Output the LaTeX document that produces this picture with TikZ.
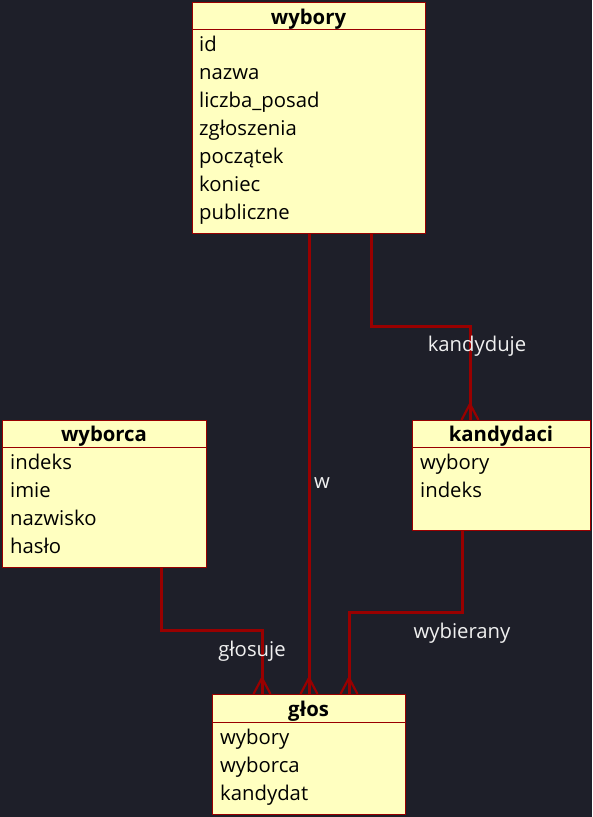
\documentclass[tikz,border=0pt]{standalone}
\usepackage{fontspec}
\setmainfont{Open Sans}
\definecolor{bg}{RGB}{30,31,41}
\definecolor{boxfill}{RGB}{255,255,192}
\definecolor{rel}{RGB}{153,0,0}
\definecolor{lbl}{RGB}{240,240,240}
\tikzset{
  entity/.style={draw=rel,fill=boxfill,line width=1pt,anchor=north west,inner sep=0pt},
  head/.style={font=\fontsize{20.3}{22}\selectfont\bfseries,text=black,inner sep=0pt,anchor=base},
  attr/.style={font=\fontsize{20.3}{22}\selectfont,text=black,anchor=base west,inner sep=0pt},
  relline/.style={draw=rel,line width=3pt},
  rellabel/.style={font=\fontsize{20.3}{22}\selectfont,text=lbl,inner sep=0pt,anchor=base},
  pics/crow/.style={code={\draw[draw=rel,line width=2.2pt] (-8.5,0) -- (0,-16) -- (8.5,0);}}
}
\begin{document}
\begin{tikzpicture}[x=1pt,y=-1pt]
\useasboundingbox[fill=bg] (0,0) rectangle (592,817);
% wybory
\node[entity,minimum width=233pt,minimum height=231pt] (wyb) at (192,2) {};
\draw[rel,line width=1pt] (192,29.5) -- (425,29.5);
\node[head] (wybh) at (308.5,24) {wybory};
\node[attr] (w1) at (199,51.5) {id};
\node[attr] (w2) at (199,79.5) {nazwa};
\node[attr] (w3) at (199,107.5) {liczba\_posad};
\node[attr] (w4) at (199,135.5) {zgłoszenia};
\node[attr] (w5) at (199,163.5) {początek};
\node[attr] (w6) at (199,191.5) {koniec};
\node[attr] (w7) at (199,219.5) {publiczne};
% wyborca
\node[entity,minimum width=204pt,minimum height=147pt] (wbc) at (2,420) {};
\draw[rel,line width=1pt] (2,447.5) -- (206,447.5);
\node[head] (wbch) at (104,441) {wyborca};
\node[attr] (c1) at (10,469) {indeks};
\node[attr] (c2) at (10,497) {imie};
\node[attr] (c3) at (10,525) {nazwisko};
\node[attr] (c4) at (10,553) {hasło};
% kandydaci
\node[entity,minimum width=178pt,minimum height=110pt] (kan) at (412,420) {};
\draw[rel,line width=1pt] (412,447.5) -- (590,447.5);
\node[head] (kanh) at (501,441) {kandydaci};
\node[attr] (k1) at (420,469) {wybory};
\node[attr] (k2) at (420,497) {indeks};
% glos
\node[entity,minimum width=193pt,minimum height=120pt] (glo) at (212,694) {};
\draw[rel,line width=1pt] (212,722.5) -- (405,722.5);
\node[head] (gloh) at (308.5,716) {głos};
\node[attr] (g1) at (220,744) {wybory};
\node[attr] (g2) at (220,772) {wyborca};
\node[attr] (g3) at (220,800) {kandydat};
% endpoints
\coordinate (a1) at (wyb.south west -| 309,0);
\coordinate (a2) at (glo.north west -| 309,0);
\coordinate (b1) at (wyb.south west -| 371,0);
\coordinate (b2) at (kan.north west -| 470,0);
\coordinate (c1e) at (wbc.south west -| 161,0);
\coordinate (c2e) at (glo.north west -| 262,0);
\coordinate (d1) at (kan.south west -| 462,0);
\coordinate (d2) at (glo.north west -| 349,0);
% connectors
\draw[relline] (a1) -- (a2);
\draw[relline] (b1) -- (371,326) -| (b2);
\draw[relline] (c1e) -- (161,630) -| (c2e);
\draw[relline] (d1) -- (462,612) -| (d2);
\pic at (a2) {crow};
\pic at (b2) {crow};
\pic at (c2e) {crow};
\pic at (d2) {crow};
% labels
\node[rellabel] (lw) at (322,488) {w};
\node[rellabel] (lk) at (477,351) {kandyduje};
\node[rellabel] (lg) at (252,656) {głosuje};
\node[rellabel] (lb) at (462,638) {wybierany};
\end{tikzpicture}
\end{document}
